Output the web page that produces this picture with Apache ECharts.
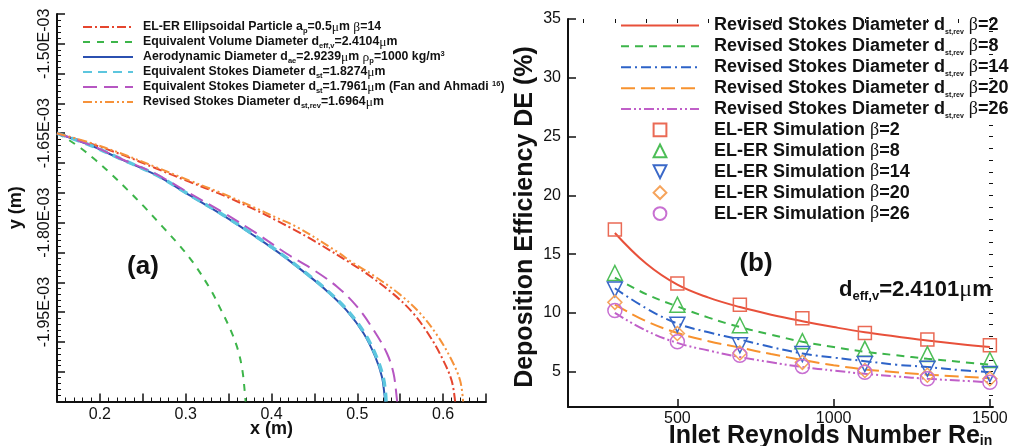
<!DOCTYPE html>
<html>
<head>
<meta charset="utf-8">
<script src="https://cdn.jsdelivr.net/npm/echarts@6/dist/echarts.min.js"></script>
<style>
html,body{margin:0;padding:0;background:#ffffff;}
#chart{width:1014px;height:446px;}
</style>
</head>
<body>
<div id="chart"></div>
<script>
// ---------------- Panel (a): trajectories, x in m, y in units of 1E-03 m ----------------
const elerX   = [0.15, 0.1876, 0.2264, 0.2651, 0.3038, 0.3427, 0.3814, 0.4047, 0.4221, 0.4492, 0.4957, 0.5113, 0.5422, 0.5655, 0.5849, 0.6003, 0.6101, 0.6140];
const elerY   = [-1.65, -1.6668, -1.6864, -1.7087, -1.7312, -1.7535, -1.7787, -1.7955, -1.8085, -1.8302, -1.8711, -1.8859, -1.9199, -1.9525, -1.9913, -2.0313, -2.0656, -2.10];
const volX    = [0.15, 0.1605, 0.1779, 0.1953, 0.2128, 0.2322, 0.2515, 0.2729, 0.2922, 0.3097, 0.3291, 0.3407, 0.3523, 0.3608, 0.3660, 0.3690, 0.3698];
const volY    = [-1.65, -1.6584, -1.6752, -1.6955, -1.7180, -1.7450, -1.7732, -1.8067, -1.8374, -1.8690, -1.9126, -1.9450, -1.9800, -2.0130, -2.0470, -2.0860, -2.10];
const aeroX   = [0.15, 0.1876, 0.2264, 0.2651, 0.3038, 0.3427, 0.3814, 0.4047, 0.4183, 0.4415, 0.4648, 0.4880, 0.5073, 0.5209, 0.5287, 0.5314, 0.5325];
const aeroY   = [-1.65, -1.6696, -1.6948, -1.7200, -1.7535, -1.7871, -1.8235, -1.8465, -1.8610, -1.8869, -1.9149, -1.9479, -1.9856, -2.0248, -2.0584, -2.0850, -2.10];
const stkX    = [0.15, 0.1876, 0.2264, 0.2651, 0.3038, 0.3427, 0.3814, 0.4047, 0.4183, 0.4415, 0.4650, 0.4885, 0.5085, 0.5222, 0.5300, 0.5328, 0.5335];
const stkY    = [-1.65, -1.6694, -1.6944, -1.7195, -1.7528, -1.7862, -1.8225, -1.8455, -1.8600, -1.8860, -1.9140, -1.9470, -1.9856, -2.0248, -2.0584, -2.0850, -2.10];
const fanX    = [0.15, 0.1876, 0.2264, 0.2651, 0.3038, 0.3427, 0.3814, 0.4183, 0.4492, 0.4764, 0.4997, 0.5190, 0.5345, 0.5422, 0.5462, 0.5465];
const fanY    = [-1.65, -1.6690, -1.6940, -1.7183, -1.7501, -1.7821, -1.8168, -1.8526, -1.8794, -1.9074, -1.9409, -1.9800, -2.0191, -2.0527, -2.0963, -2.10];
const revX    = [0.15, 0.1876, 0.2264, 0.2651, 0.3038, 0.3427, 0.3814, 0.4047, 0.4299, 0.4764, 0.4957, 0.5160, 0.5492, 0.5736, 0.5942, 0.6102, 0.6200, 0.6233];
const revY    = [-1.65, -1.6655, -1.6848, -1.7068, -1.7290, -1.7510, -1.7755, -1.7910, -1.8075, -1.8487, -1.8682, -1.8859, -1.9199, -1.9525, -1.9913, -2.0313, -2.0656, -2.10];

const leftNames = [
  'EL-ER Ellipsoidal Particle',
  'Equivalent Volume Diameter',
  'Aerodynamic Diameter',
  'Equivalent Stokes Diameter 1.8274',
  'Equivalent Stokes Diameter 1.7961',
  'Revised Stokes Diameter 1.6964'
];
const leftLabels = [
  'EL-ER Ellipsoidal Particle a{s|p}=0.5{g|μ}m {g|β}=14',
  'Equivalent Volume Diameter d{s|eff,v}=2.4104{g|μ}m',
  'Aerodynamic Diameter d{s|ae}=2.9239{g|μ}m {g|ρ}{s|p}=1000 kg/m{u|3}',
  'Equivalent Stokes Diameter d{s|st}=1.8274{g|μ}m',
  'Equivalent Stokes Diameter d{s|st}=1.7961{g|μ}m (Fan and Ahmadi {u|16})',
  'Revised Stokes Diameter d{s|st,rev}=1.6964{g|μ}m'
];
const leftXTickLabels = ['0.2', '0.3', '0.4', '0.5', '0.6'];
const leftYTickLabels = ['-1.50', '-1.65', '-1.80', '-1.95'];

// ---------------- Panel (b): deposition efficiency ----------------
const reLine = [300, 400, 500, 600, 700, 800, 900, 1000, 1100, 1200, 1300, 1400, 1500];
const revB2  = [16.8, 14.2, 12.4, 11.3, 10.5, 9.85, 9.3, 8.8, 8.35, 8.0, 7.65, 7.35, 7.1];
const revB8  = [13.0, 11.6, 10.55, 9.6, 8.8, 8.15, 7.55, 7.1, 6.7, 6.4, 6.1, 5.85, 5.6];
const revB14 = [12.1, 10.4, 9.1, 8.35, 7.74, 7.1, 6.55, 6.2, 5.9, 5.6, 5.4, 5.15, 4.96];
const revB20 = [10.7, 9.3, 8.3, 7.6, 7.05, 6.5, 6.0, 5.55, 5.2, 4.95, 4.75, 4.6, 4.45];
const revB26 = [10.0, 8.5, 7.45, 6.8, 6.25, 5.8, 5.4, 5.1, 4.82, 4.6, 4.4, 4.25, 4.1];

const reSim  = [300, 500, 700, 900, 1100, 1300, 1500];
const simB2  = [17.1, 12.5, 10.7, 9.55, 8.3, 7.75, 7.25];
const simB8  = [13.4, 10.7, 8.95, 7.6, 6.95, 6.5, 6.0];
const simB14 = [12.0, 9.0, 7.25, 6.5, 5.65, 5.25, 4.8];
const simB20 = [10.9, 8.25, 6.6, 5.8, 5.1, 4.7, 4.4];
const simB26 = [10.2, 7.55, 6.4, 5.45, 4.95, 4.4, 4.1];

const betas = ['2', '8', '14', '20', '26'];
const rightXTickLabels = [500, 1000, 1500];
const rightXMinorTicks = [200, 300, 400, 500, 600, 700, 800, 900, 1000, 1100, 1200, 1300, 1400, 1500];
const rightYTickLabels = [5, 10, 15, 20, 25, 30, 35];

// ---------------- build ----------------
const FONT = "'Liberation Sans', Arial, sans-serif";
const SERIF = "'Liberation Serif', 'DejaVu Serif', serif";
const zip = (xs, ys) => xs.map((x, i) => [x, ys[i]]);

const leftCols = ['#e5452e', '#3db54a', '#2b50b0', '#5cc6de', '#b656c2', '#f6923a'];
const leftDash = [[9, 3, 2, 3], [7, 7], 'solid', [9, 6], [14, 7], [9, 3, 2, 3, 2, 3]];
const leftWidth = [2, 2, 2, 3.5, 2, 2];
const leftXs = [elerX, volX, aeroX, stkX, fanX, revX];
const leftYs = [elerY, volY, aeroY, stkY, fanY, revY];

const rightCols = ['#e8503a', '#3cb54a', '#2d63c8', '#f7922f', '#c05fc8'];
const rightDash = ['solid', [8, 6], [10, 4, 2, 4], [14, 6], [10, 3, 2, 3, 2, 3]];
const rightLines = [revB2, revB8, revB14, revB20, revB26];
const symCols = ['#ea6a55', '#4dbe57', '#3a68c8', '#f6a45c', '#c870d2'];
const symShapes = ['rect', 'triangle', 'triangle', 'diamond', 'circle'];
const symRot = [0, 0, 180, 0, 0];
const symSizes = [13, 15, 15, 14, 14];
const simVals = [simB2, simB8, simB14, simB20, simB26];

const rightLineNames = betas.map(b => 'Revised Stokes Diameter beta=' + b);
const rightSimNames = betas.map(b => 'EL-ER Simulation beta=' + b);
const rightLabelMap = {};
betas.forEach(b => {
  rightLabelMap['Revised Stokes Diameter beta=' + b] = 'Revised Stokes Diameter d{s|st,rev} {g|β}=' + b;
  rightLabelMap['EL-ER Simulation beta=' + b] = 'EL-ER Simulation {g|β}=' + b;
});
const leftLabelMap = {};
leftNames.forEach((n, i) => leftLabelMap[n] = leftLabels[i]);

const series = [];
leftNames.forEach((n, i) => {
  series.push({
    name: n, type: 'line', xAxisIndex: 0, yAxisIndex: 0,
    data: zip(leftXs[i], leftYs[i]), smooth: 0.35, symbol: 'none',
    lineStyle: { color: leftCols[i], width: leftWidth[i], type: leftDash[i] },
    itemStyle: { color: leftCols[i], opacity: 0 }, z: 2 + i
  });
});
rightLineNames.forEach((n, i) => {
  series.push({
    name: n, type: 'line', xAxisIndex: 1, yAxisIndex: 1,
    data: zip(reLine, rightLines[i]), smooth: 0.4, symbol: 'none',
    lineStyle: { color: rightCols[i], width: 2, type: rightDash[i] },
    itemStyle: { color: rightCols[i], opacity: 0 }, z: 2
  });
});
rightSimNames.forEach((n, i) => {
  series.push({
    name: n, type: 'line', xAxisIndex: 1, yAxisIndex: 1,
    data: zip(reSim, simVals[i]), symbol: symShapes[i], symbolRotate: symRot[i], symbolSize: symSizes[i],
    showSymbol: true,
    lineStyle: { width: 0, opacity: 0 },
    itemStyle: { color: 'rgba(255,255,255,0)', borderColor: symCols[i], borderWidth: 1.5 }, z: 5
  });
});

const axisLine = { show: true, lineStyle: { color: '#111', width: 2 } };
const tickStyle = { color: '#111', width: 1.5 };
const hideSym = { opacity: 0 };

const option = {
  animation: false,
  backgroundColor: '#ffffff',
  textStyle: { fontFamily: FONT },
  grid: [
    { left: 57, top: 14, width: 429, height: 387.5, containLabel: false, outerBoundsMode: 'none' },
    { left: 568, top: 19, width: 425, height: 388, containLabel: false, outerBoundsMode: 'none' }
  ],
  xAxis: [
    {
      gridIndex: 0, type: 'value', min: 0.15, max: 0.65, interval: 0.05,
      axisLine: axisLine, splitLine: { show: false },
      axisTick: { show: true, inside: true, length: 8, lineStyle: tickStyle },
      minorTick: { show: true, splitNumber: 5, length: 4, lineStyle: { color: '#111', width: 1 } },
      axisLabel: {
        margin: 5, fontSize: 16, color: '#111', fontFamily: FONT,
        formatter: v => { const s = v.toFixed(1); return (Math.abs(v * 10 - Math.round(v * 10)) < 1e-6 && leftXTickLabels.includes(s)) ? s : ''; }
      },
      name: 'x (m)', nameLocation: 'middle', nameGap: 19, nameMoveOverlap: false,
      nameTextStyle: { fontSize: 18, fontWeight: 'bold', color: '#111', fontFamily: FONT }
    },
    {
      gridIndex: 1, type: 'value', min: 150, max: 1510,
      axisLine: axisLine, splitLine: { show: false },
      axisTick: { show: true, inside: true, length: 8, lineStyle: tickStyle, customValues: rightXTickLabels },
      axisLabel: { margin: 4, fontSize: 16, color: '#111', fontFamily: FONT, customValues: rightXTickLabels, formatter: v => String(v) },
      name: 'Inlet Reynolds Number Re{s|in}', nameLocation: 'middle', nameGap: 17, nameMoveOverlap: false,
      nameTextStyle: {
        fontSize: 25, fontWeight: 'bold', color: '#111', fontFamily: FONT, padding: [0, 0, 0, 100], lineHeight: 24,
        rich: { s: { fontSize: 14, fontWeight: 'bold', fontFamily: FONT, lineHeight: 8, verticalAlign: 'bottom', color: '#111' } }
      }
    },
    {
      gridIndex: 1, type: 'value', min: 150, max: 1510,
      axisLine: { show: false }, splitLine: { show: false },
      axisTick: { show: true, inside: true, length: 4, lineStyle: { color: '#111', width: 1 }, customValues: rightXMinorTicks },
      axisLabel: { show: false }
    }
  ],
  yAxis: [
    {
      gridIndex: 0, type: 'value', min: -2.10, max: -1.45, interval: 0.05,
      axisLine: axisLine, splitLine: { show: false },
      axisTick: { show: true, inside: true, length: 8, lineStyle: tickStyle },
      minorTick: { show: true, splitNumber: 5, length: 4, lineStyle: { color: '#111', width: 1 } },
      axisLabel: {
        rotate: 90, margin: 4, fontSize: 16, color: '#111', fontFamily: FONT,
        formatter: v => { const s = v.toFixed(2); return leftYTickLabels.includes(s) ? s + 'E-03' : ''; }
      },
      name: 'y (m)', nameLocation: 'middle', nameGap: 32, nameMoveOverlap: false,
      nameTextStyle: { fontSize: 18, fontWeight: 'bold', color: '#111', fontFamily: FONT }
    },
    {
      gridIndex: 1, type: 'value', min: 2, max: 35,
      axisLine: axisLine, splitLine: { show: false },
      axisTick: { show: true, inside: true, length: 8, lineStyle: tickStyle, customValues: rightYTickLabels },
      axisLabel: { margin: 7, fontSize: 16, color: '#111', fontFamily: FONT, customValues: rightYTickLabels },
      name: 'Deposition Efficiency DE (%)', nameLocation: 'middle', nameGap: 30, nameMoveOverlap: false,
      nameTextStyle: { fontSize: 25, fontWeight: 'bold', color: '#111', fontFamily: FONT, padding: [0, 8, 0, 0] }
    },
    {
      gridIndex: 1, type: 'value', min: 2, max: 35, interval: 1,
      axisLine: { show: false }, splitLine: { show: false },
      axisTick: { show: true, inside: true, length: 4, lineStyle: { color: '#111', width: 1 } },
      axisLabel: { show: false }
    }
  ],
  legend: [
    {
      data: leftNames.map(n => ({ name: n, itemStyle: hideSym })),
      orient: 'vertical', left: 82, top: 19.5, padding: 0, itemWidth: 50, itemHeight: 10,
      itemGap: 0, selectedMode: false,
      formatter: n => leftLabelMap[n],
      textStyle: {
        fontSize: 12.3, fontWeight: 'bold', color: '#111', fontFamily: FONT, lineHeight: 15, padding: [0, 0, 0, 5],
        rich: {
          s: { fontSize: 7.5, fontWeight: 'bold', fontFamily: FONT, lineHeight: 6, verticalAlign: 'bottom', color: '#111' },
          u: { fontSize: 7.5, fontWeight: 'bold', fontFamily: FONT, lineHeight: 6, verticalAlign: 'top', color: '#111' },
          g: { fontSize: 13.5, fontWeight: 'normal', fontFamily: SERIF, lineHeight: 15, color: '#111' }
        }
      }
    },
    {
      data: rightLineNames.map(n => ({ name: n, itemStyle: hideSym })).concat(rightSimNames.map(n => ({ name: n }))),
      orient: 'vertical', left: 620, top: 15, padding: 0, itemWidth: 78, itemHeight: 16,
      itemGap: 0, selectedMode: false,
      formatter: n => rightLabelMap[n],
      textStyle: {
        fontSize: 18, fontWeight: 'bold', color: '#111', fontFamily: FONT, lineHeight: 20.9, padding: [0, 0, 0, 10],
        rich: {
          s: { fontSize: 7, fontWeight: 'bold', fontFamily: FONT, lineHeight: 5, verticalAlign: 'bottom', color: '#111' },
          g: { fontSize: 18, fontWeight: 'normal', fontFamily: SERIF, lineHeight: 20.9, color: '#111' }
        }
      }
    }
  ],
  graphic: [
    { type: 'text', x: 143, y: 267, style: { text: '(a)', fill: '#111', font: "bold 26px 'Liberation Sans', Arial, sans-serif", align: 'center', verticalAlign: 'middle' } },
    { type: 'text', x: 756, y: 264, style: { text: '(b)', fill: '#111', font: "bold 26px 'Liberation Sans', Arial, sans-serif", align: 'center', verticalAlign: 'middle' } },
    {
      type: 'text', x: 839, y: 290,
      style: {
        text: 'd{s|eff,v}=2.4101{g|μ}m', fill: '#111', font: "bold 22px 'Liberation Sans', Arial, sans-serif",
        align: 'left', verticalAlign: 'middle', lineHeight: 26,
        rich: {
          s: { fontSize: 13, fontWeight: 'bold', fontFamily: FONT, lineHeight: 10, verticalAlign: 'bottom', fill: '#111' },
          g: { fontSize: 24, fontWeight: 'normal', fontFamily: SERIF, lineHeight: 26, fill: '#111' }
        }
      }
    }
  ],
  series: series
};

const chart = echarts.init(document.getElementById('chart'), null, { renderer: 'canvas' });
chart.setOption(option);
</script>
</body>
</html>
